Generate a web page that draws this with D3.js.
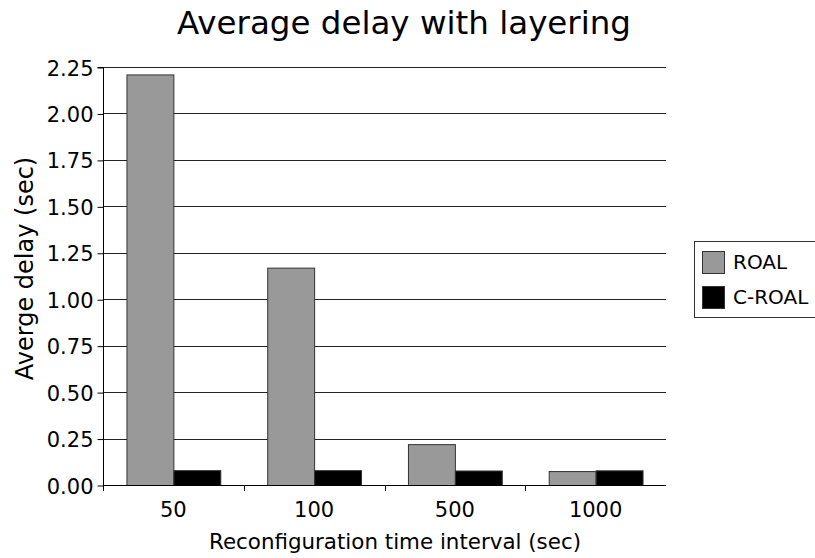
<!DOCTYPE html>
<html><head><meta charset="utf-8">
<script src="https://cdn.jsdelivr.net/npm/d3@7"></script>
<style>body{margin:0;background:#fff}svg{display:block}text{font-family:"DejaVu Sans",sans-serif;fill:#000}</style>
</head><body>
<svg id="c" width="815" height="558"></svg>
<script>
const categories = ["50", "100", "500", "1000"];
const seriesNames = ["ROAL", "C-ROAL"];
const roal = [2.21, 1.17, 0.22, 0.075];
const croal = [0.08, 0.08, 0.078, 0.079];
const yTicks = [0, 0.25, 0.5, 0.75, 1.0, 1.25, 1.5, 1.75, 2.0, 2.25];
const colors = ["#999999", "#000000"];

const svg = d3.select("#c");
const m = {l: 103, r: 666, t: 67, b: 485};
const x = d3.scaleBand().domain(categories).range([m.l, m.r]).paddingInner(0).paddingOuter(0);
const x1 = d3.scaleBand().domain(seriesNames).range([0, x.bandwidth()]).paddingOuter(0.5).paddingInner(0);
const y = d3.scaleLinear().domain([0, 2.25]).range([m.b, m.t]);

// grid
svg.append("g").selectAll("line").data(yTicks.filter(d => d > 0)).join("line")
  .attr("x1", m.l).attr("x2", m.r).attr("y1", d => Math.round(y(d)) + 0.5).attr("y2", d => Math.round(y(d)) + 0.5)
  .attr("stroke", "#222").attr("stroke-width", 1);

// bars
const data = categories.map((c, i) => ({c, vals: [roal[i], croal[i]]}));
const g = svg.append("g");
data.forEach(d => {
  d.vals.forEach((v, j) => {
    g.append("rect")
      .attr("x", x(d.c) + x1(seriesNames[j]) + 0.5)
      .attr("y", y(v) + 0.5)
      .attr("width", x1.bandwidth())
      .attr("height", y(0) - y(v))
      .attr("fill", colors[j]).attr("stroke", "#333").attr("stroke-width", 1);
  });
});

// y axis
const yAxis = d3.axisLeft(y).tickValues(yTicks).tickFormat(d3.format(".2f")).tickSize(6).tickPadding(4);
const ya = svg.append("g").attr("transform", `translate(${m.l + 0.5},0.5)`).call(yAxis);
ya.select(".domain").attr("stroke", "#000").attr("d", `M-6,${m.t}H0V${m.b}`);
ya.selectAll("text").attr("font-size", 21).attr("font-family", "DejaVu Sans").attr("fill", "#000").attr("dy", "0.36em");
ya.selectAll("line").attr("stroke", "#000");

// x axis
svg.append("line").attr("x1", m.l).attr("x2", m.r).attr("y1", m.b + 0.5).attr("y2", m.b + 0.5).attr("stroke", "#000");
svg.append("g").selectAll("line").data(categories).join("line")
  .attr("x1", d => Math.round(x(d)) + 0.5).attr("x2", d => Math.round(x(d)) + 0.5)
  .attr("y1", m.b).attr("y2", m.b + 6).attr("stroke", "#000");
svg.append("g").selectAll("text").data(categories).join("text")
  .attr("x", d => x(d) + x.bandwidth() / 2).attr("y", 517)
  .attr("text-anchor", "middle").attr("font-size", 21).text(d => d);

// titles
svg.append("text").attr("x", 404).attr("y", 34).attr("text-anchor", "middle").attr("font-size", 32.5).text("Average delay with layering");
svg.append("text").attr("x", 395).attr("y", 549).attr("text-anchor", "middle").attr("font-size", 21.4).text("Reconfiguration time interval (sec)");
svg.append("text").attr("transform", "translate(33,268.5) rotate(-90)").attr("text-anchor", "middle").attr("font-size", 24).text("Averge delay (sec)");

// legend
const lg = svg.append("g");
lg.append("rect").attr("x", 694.5).attr("y", 241.5).attr("width", 140).attr("height", 76).attr("fill", "#fff").attr("stroke", "#333");
seriesNames.forEach((s, i) => {
  lg.append("rect").attr("x", 702.5).attr("y", 251.5 + i * 35).attr("width", 22).attr("height", 22)
    .attr("fill", colors[i]).attr("stroke", "#333");
  lg.append("text").attr("x", 733).attr("y", 269 + i * 35).attr("font-size", 20).text(s);
});
</script>
</body></html>
